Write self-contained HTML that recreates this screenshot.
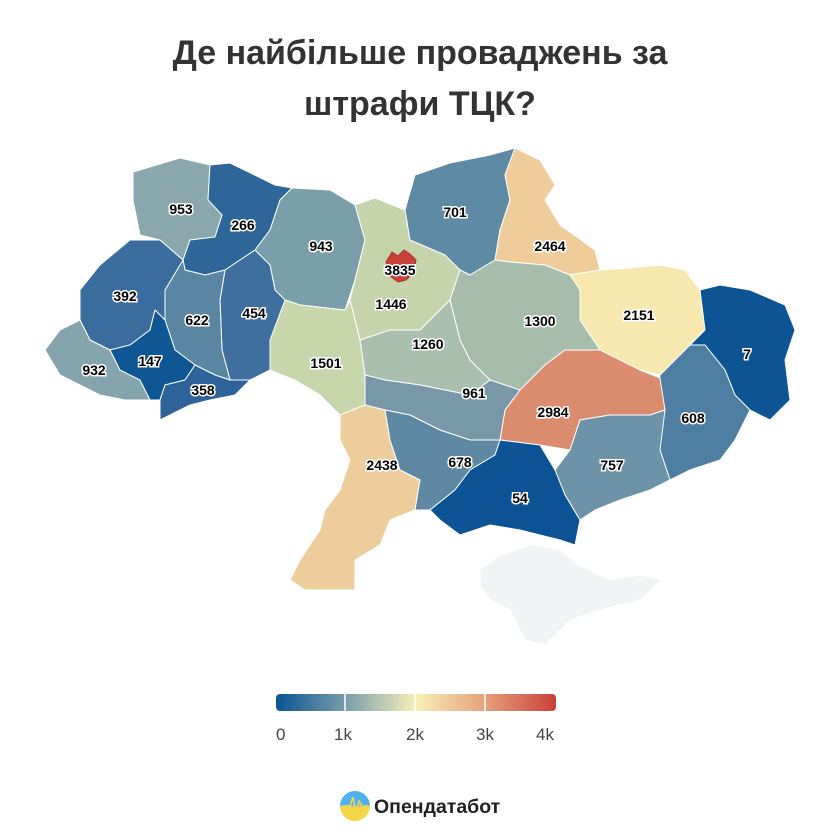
<!DOCTYPE html>
<html><head><meta charset="utf-8"><style>
body{margin:0;background:#fff;width:840px;height:840px;overflow:hidden}
svg{display:block;font-family:"Liberation Sans",sans-serif}
.r{stroke:#fff;stroke-width:1;stroke-linejoin:round}
.l{font-size:14px;font-weight:bold;fill:#000;stroke:#fff;stroke-width:3;paint-order:stroke;text-anchor:middle;dominant-baseline:central}
</style></head><body>
<svg width="840" height="840" viewBox="0 0 840 840">
<defs>
<linearGradient id="g" x1="0" x2="1"><stop offset="0" stop-color="#0b5394"/><stop offset=".25" stop-color="#7a9eaa"/><stop offset=".5" stop-color="#f7f0b8"/><stop offset=".75" stop-color="#e5a07a"/><stop offset="1" stop-color="#c9403a"/></linearGradient>
<linearGradient id="lg" x1="0" y1="0" x2="0" y2="1"><stop offset=".45" stop-color="#4fb0f0"/><stop offset=".55" stop-color="#f5d54a"/></linearGradient>
</defs>
<text x="420" y="64" text-anchor="middle" font-size="34" font-weight="bold" fill="#333">Де найбільше проваджень за</text>
<text x="420" y="115" text-anchor="middle" font-size="34" font-weight="bold" fill="#333">штрафи ТЦК?</text>

<polygon class="r" fill="#f2f3f5" stroke="#c8cde0" points="480,570 500,555 530,545 560,550 580,565 610,580 640,575 662,580 640,600 600,610 570,620 545,645 525,640 510,610 490,600 480,585"/>
<polygon class="r" fill="#8aa7ae" points="133,172 180,158 210,165 208,200 222,215 215,237 190,240 183,260 160,240 140,235 133,200"/>
<polygon class="r" fill="#2f6699" points="210,165 230,163 275,185 292,188 280,200 270,230 255,250 225,270 205,275 185,270 183,260 190,240 215,237 222,215 208,200"/>
<polygon class="r" fill="#7a9eaa" points="292,188 330,190 355,205 365,240 355,280 345,310 300,305 285,300 275,290 270,265 255,250 270,230 280,200"/>
<polygon class="r" fill="#c5d4aa" points="355,205 375,198 405,210 410,240 445,255 460,270 450,300 420,330 390,330 360,340 350,300 355,280 365,240"/>
<polygon class="r" fill="#5f8aa3" points="405,210 415,175 450,163 490,155 515,148 505,175 510,200 500,230 495,260 470,275 460,270 445,255 410,240"/>
<polygon class="r" fill="#efcd9b" points="515,148 540,160 555,185 545,200 560,225 595,250 600,270 570,275 545,265 510,262 495,260 500,230 510,200 505,175"/>
<polygon class="r" fill="#f7e8b0" points="570,275 600,270 630,268 660,265 685,270 700,290 705,330 690,345 660,375 640,370 600,350 580,320 580,290"/>
<polygon class="r" fill="#0d5494" points="705,330 700,290 720,285 750,290 785,305 795,330 785,360 790,400 770,420 750,410 735,395 725,370 705,345 690,345"/>
<polygon class="r" fill="#4e7ea2" points="690,345 705,345 725,370 735,395 750,410 735,440 720,460 690,470 670,480 660,450 655,410 660,375"/>
<polygon class="r" fill="#a5bdaa" points="460,270 470,275 495,260 510,262 545,265 570,275 580,290 580,320 600,350 565,350 545,365 520,390 490,380 470,360 460,340 450,300"/>
<polygon class="r" fill="#dc8c6e" points="520,390 545,365 565,350 600,350 640,370 660,378 665,410 650,415 610,415 580,420 570,450 540,445 500,440 505,410"/>
<polygon class="r" fill="#6c93a8" points="570,450 580,420 610,415 650,415 665,410 660,450 670,480 650,490 620,500 595,510 580,520 565,495 555,470"/>
<polygon class="r" fill="#a9c0ae" points="360,340 390,330 420,330 450,300 460,340 470,360 490,380 470,395 420,385 385,380 365,375"/>
<polygon class="r" fill="#7898a9" points="365,375 385,380 420,385 470,395 490,380 520,390 505,410 500,440 470,440 440,430 410,415 385,410 365,405"/>
<polygon class="r" fill="#c8d6ab" points="285,300 300,305 345,310 350,300 360,340 365,375 365,405 340,415 320,395 295,380 270,370 270,340"/>
<polygon class="r" fill="#3e6f9e" points="255,250 270,265 275,290 285,300 270,340 270,370 250,380 230,380 222,350 220,300 225,270"/>
<polygon class="r" fill="#5a86a2" points="183,260 185,270 205,275 225,270 220,300 222,350 230,380 215,375 195,365 175,350 165,320 165,290"/>
<polygon class="r" fill="#3a6c9d" points="80,290 100,265 130,240 160,240 183,260 165,290 165,320 155,310 150,330 130,345 110,350 90,340 80,320"/>
<polygon class="r" fill="#86a4ad" points="45,350 60,330 80,320 90,340 110,350 120,370 140,380 150,400 125,400 100,395 80,385 60,375"/>
<polygon class="r" fill="#0f5694" points="110,350 130,345 150,330 155,310 165,320 175,350 195,365 185,380 165,385 160,400 150,400 140,380 120,370"/>
<polygon class="r" fill="#2d6399" points="160,400 165,385 185,380 195,365 215,375 230,380 250,380 235,395 210,400 190,405 160,420"/>
<polygon class="r" fill="#eecd9d" points="340,415 365,405 385,410 390,440 400,470 420,480 415,510 390,520 380,545 355,560 355,590 330,590 305,590 290,580 300,560 320,530 325,510 340,490 350,460 340,440"/>
<polygon class="r" fill="#5f88a2" points="385,410 410,415 440,430 470,440 500,440 495,455 470,470 455,490 430,510 415,510 420,480 400,470 390,440"/>
<polygon class="r" fill="#0b5394" points="455,490 470,470 495,455 500,440 540,445 555,470 565,495 580,520 575,545 560,540 520,530 490,525 460,535 440,520 430,510"/>
<polygon fill="#c9433b" stroke="#a33" points="386,262 392,252 398,256 404,250 410,254 416,260 414,272 406,280 398,282 390,276"/>

<text class="l" x="181" y="209">953</text>
<text class="l" x="243" y="225">266</text>
<text class="l" x="321" y="246">943</text>
<text class="l" x="455" y="212">701</text>
<text class="l" x="550" y="246">2464</text>
<text class="l" x="400" y="270">3835</text>
<text class="l" x="391" y="304">1446</text>
<text class="l" x="125" y="296">392</text>
<text class="l" x="197" y="320">622</text>
<text class="l" x="254" y="313">454</text>
<text class="l" x="540" y="321">1300</text>
<text class="l" x="639" y="315">2151</text>
<text class="l" x="747" y="354">7</text>
<text class="l" x="428" y="344">1260</text>
<text class="l" x="150" y="361">147</text>
<text class="l" x="94" y="370">932</text>
<text class="l" x="326" y="363">1501</text>
<text class="l" x="203" y="390">358</text>
<text class="l" x="474" y="393">961</text>
<text class="l" x="553" y="412">2984</text>
<text class="l" x="693" y="418">608</text>
<text class="l" x="382" y="465">2438</text>
<text class="l" x="460" y="462">678</text>
<text class="l" x="612" y="465">757</text>
<text class="l" x="520" y="498">54</text>

<rect x="276" y="694" width="280" height="17" rx="4" fill="url(#g)"/>
<g stroke="#fff" stroke-width="1.5"><line x1="345" y1="694" x2="345" y2="711"/><line x1="415" y1="694" x2="415" y2="711"/><line x1="485" y1="694" x2="485" y2="711"/></g>
<g font-size="17" fill="#444"><text x="276" y="740">0</text><text x="334" y="740">1k</text><text x="406" y="740">2k</text><text x="476" y="740">3k</text><text x="536" y="740">4k</text></g>

<circle cx="355" cy="806" r="15" fill="url(#lg)"/>
<polyline points="342,806 350,806 353,797 356,814 359,801 362,806 369,806" fill="none" stroke="#f5d54a" stroke-width="1.5"/>
<text x="374" y="813" font-size="19.5" font-weight="bold" fill="#222">Опендатабот</text>
</svg>
</body></html>
